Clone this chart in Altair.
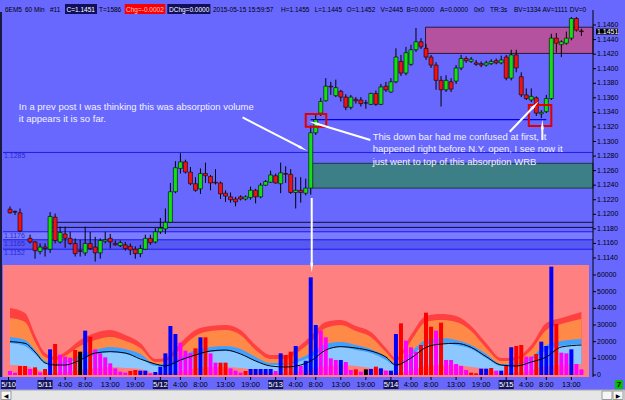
import altair as alt
import pandas as pd

FONT = "Liberation Sans"
BG = "#6868FF"

# ---------------- price bars (hourly, index 0 = 5/10 17:00) ----------------
OPEN = [1.1207, 1.1204, 1.1202, None, 1.1167, 1.1162, 1.1149, 1.1155, 1.1152, 1.1196,
        1.1162, 1.1173, 1.1167, 1.1160, 1.1150, 1.1147, 1.1160, 1.1155, 1.1147, 1.1163,
        1.1167, 1.1160, 1.1157, 1.1158, 1.1156, 1.1152, 1.1146, 1.1152, 1.1167, 1.1162,
        1.1176, 1.1180, 1.1189, 1.1231, 1.1263, 1.1272, 1.1258, 1.1242, 1.1235, 1.1256,
        1.1252, 1.1244, 1.1243, 1.1229, 1.1224, 1.1221, 1.1224, 1.1221, 1.1223, 1.1233,
        1.1224, 1.1240, 1.1244, 1.1253, 1.1242, 1.1256, 1.1255, 1.1230, 1.1233, 1.1229,
        1.1236, 1.1312, 1.1339, 1.1356, 1.1376, 1.1363, 1.1369, 1.1361, 1.1347, 1.1358,
        1.1357, 1.1353, 1.1351, 1.1366, 1.1351, 1.1376, 1.1368, 1.1382, 1.1410, 1.1394,
        1.1406, 1.1426, 1.1437, 1.1428, 1.1416, 1.1405, 1.1384, 1.1371, 1.1382, 1.1383,
        1.1401, 1.1414, 1.1410, 1.1408, 1.1407, 1.1405, 1.1407, 1.1411, 1.1408, 1.1416,
        1.1387, 1.1419, 1.1389, 1.1364, 1.1357, 1.1360, 1.1338, 1.1341, 1.1359, 1.1442,
        1.1433, 1.1435, 1.1442, 1.1469, 1.1452]
HIGH = [1.1211, 1.1205, 1.1208, None, 1.1172, 1.1163, 1.1160, 1.1160, 1.1203, 1.1201,
        1.1183, 1.1183, 1.1176, 1.1167, 1.1165, 1.1183, 1.1176, 1.1169, 1.1167, 1.1176,
        1.1173, 1.1164, 1.1164, 1.1162, 1.1160, 1.1156, 1.1158, 1.1172, 1.1172, 1.1181,
        1.1195, 1.1208, 1.1243, 1.1273, 1.1284, 1.1275, 1.1265, 1.1251, 1.1263, 1.1271,
        1.1254, 1.1262, 1.1245, 1.1233, 1.1230, 1.1224, 1.1226, 1.1226, 1.1238, 1.1235,
        1.1243, 1.1247, 1.1260, 1.1256, 1.1271, 1.1266, 1.1262, 1.1251, 1.1251, 1.1249,
        1.1322, 1.1337, 1.1360, 1.1387, 1.1382, 1.1385, 1.1371, 1.1365, 1.1364, 1.1361,
        1.1361, 1.1357, 1.1367, 1.1370, 1.1379, 1.1382, 1.1387, 1.1428, 1.1419, 1.1430,
        1.1433, 1.1456, 1.1442, 1.1434, 1.1419, 1.1409, 1.1390, 1.1391, 1.1387, 1.1405,
        1.1419, 1.1417, 1.1416, 1.1412, 1.1410, 1.1411, 1.1413, 1.1414, 1.1418, 1.1419,
        1.1426, 1.1426, 1.1395, 1.1373, 1.1373, 1.1362, 1.1343, 1.1364, 1.1448, 1.1449,
        1.1439, 1.1451, 1.1471, 1.1471, 1.1455]
LOW = [1.1201, 1.1199, 1.1176, None, 1.1160, 1.1139, 1.1145, 1.1142, 1.1147, 1.1160,
       1.1160, 1.1154, 1.1158, 1.1142, 1.1142, 1.1143, 1.1151, 1.1135, 1.1139, 1.1160,
       1.1153, 1.1157, 1.1155, 1.1150, 1.1144, 1.1139, 1.1141, 1.1151, 1.1158, 1.1160,
       1.1173, 1.1173, 1.1188, 1.1229, 1.1256, 1.1256, 1.1240, 1.1231, 1.1228, 1.1243,
       1.1233, 1.1241, 1.1221, 1.1217, 1.1216, 1.1211, 1.1219, 1.1219, 1.1220, 1.1215,
       1.1222, 1.1239, 1.1243, 1.1242, 1.1229, 1.1243, 1.1228, 1.1208, 1.1216, 1.1226,
       1.1227, 1.1309, 1.1335, 1.1355, 1.1364, 1.1361, 1.1355, 1.1343, 1.1344, 1.1352,
       1.1348, 1.1345, 1.1350, 1.1349, 1.1350, 1.1368, 1.1367, 1.1380, 1.1390, 1.1391,
       1.1404, 1.1423, 1.1427, 1.1412, 1.1401, 1.1371, 1.1348, 1.1368, 1.1368, 1.1379,
       1.1398, 1.1408, 1.1408, 1.1404, 1.1402, 1.1403, 1.1405, 1.1406, 1.1406, 1.1384,
       1.1384, 1.1395, 1.1361, 1.1357, 1.1354, 1.1335, 1.1332, 1.1339, 1.1357, 1.1422,
       1.1416, 1.1433, 1.1439, 1.1451, 1.1445]
CLOSE = [1.1202, 1.1203, 1.1177, None, 1.1162, 1.1150, 1.1155, 1.1153, 1.1197, 1.1164,
         1.1175, 1.1167, 1.1160, 1.1146, 1.1149, 1.1160, 1.1153, 1.1147, 1.1164, 1.1165,
         1.1162, 1.1158, 1.1161, 1.1153, 1.1151, 1.1146, 1.1153, 1.1167, 1.1161, 1.1176,
         1.1181, 1.1189, 1.1231, 1.1264, 1.1272, 1.1258, 1.1242, 1.1233, 1.1256, 1.1253,
         1.1243, 1.1243, 1.1228, 1.1225, 1.1220, 1.1217, 1.1221, 1.1224, 1.1233, 1.1224,
         1.1240, 1.1245, 1.1254, 1.1243, 1.1257, 1.1255, 1.1230, 1.1233, 1.1230, 1.1236,
         1.1312, 1.1330, 1.1355, 1.1376, 1.1375, 1.1374, 1.1361, 1.1347, 1.1361, 1.1356,
         1.1352, 1.1353, 1.1366, 1.1351, 1.1375, 1.1371, 1.1382, 1.1416, 1.1394, 1.1422,
         1.1426, 1.1437, 1.1430, 1.1416, 1.1405, 1.1384, 1.1371, 1.1384, 1.1372, 1.1401,
         1.1414, 1.1411, 1.1413, 1.1406, 1.1405, 1.1408, 1.1410, 1.1408, 1.1412, 1.1387,
         1.1419, 1.1401, 1.1364, 1.1359, 1.1362, 1.1339, 1.1340, 1.1359, 1.1442, 1.1435,
         1.1437, 1.1442, 1.1469, 1.1453, 1.1451]

# ---------------- volume ----------------
VOLUME = [2400, 1400, 5400, 5400, 3600, 4600, 1600, 3600, 15400, 18600,
          12200, 11000, 10400, 15000, 14000, 26600, 23000, 15400, 13000, 10600,
          7000, 4000, 2000, 1400, 2400, 3000, 2600, 2600, 1000, 1800,
          5000, 13000, 29400, 24600, 19400, 14600, 13000, 16000, 22600, 22600,
          13000, 7400, 7400, 7400, 4000, 2600, 1400, 2400, 3600, 3600,
          3600, 3600, 3600, 2400, 13000, 12000, 14000, 17400, 5400, 8500,
          58600, 30000, 26600, 22600, 10000, 9000, 9000, 7800, 3000, 3400,
          2000, 3400, 3600, 5000, 4000, 2600, 2600, 24600, 31000, 20600,
          16600, 14000, 18000, 37400, 29000, 26600, 31400, 9000, 9000, 6600,
          5400, 3000, 1400, 1000, 3800, 3800, 4200, 2600, 2600, 5400,
          16600, 17400, 18000, 11000, 11000, 12600, 20000, 17400, 65000, 30600,
          13400, 13000, 15400, 6600, 3400]
VOL_KIND = list("mmrrmrmrbr" "mmmrkbrmmm" "mmmmrrbbmb" "bbbbmmmrbr" "mmrrmmmrbb"
                "bbbmbrrbmb" "bbmmmmbmmr" "mkbrbmbbrm" "mmrrrmrmmm" "mmrrbbrmbr"
                "brrmmrbbbr" "mmbmm")

# volume bands (read at selected bars)
BAND_IDX = [0, 3, 5, 7, 9, 11, 14, 17, 20, 23, 26, 29, 31, 34, 37, 40, 43, 46, 49, 52, 55,
            58, 60, 63, 66, 69, 72, 75, 77, 80, 83, 86, 89, 92, 95, 98, 101, 104, 107, 110, 114]
BAND_RED = [40200, 37200, 24000, 13200, 10800, 13800, 21000, 25200, 27000, 24000, 19200, 9600,
            10200, 19200, 27000, 29400, 30000, 27000, 18000, 12000, 12000, 18000, 23400, 31800,
            33000, 29400, 25800, 16200, 10200, 24000, 35400, 36600, 35400, 29400, 19200, 10200,
            10800, 18000, 31200, 34200, 37800]
BAND_ORANGE = [34200, 31800, 19800, 10800, 9000, 11400, 17400, 21000, 22800, 20400, 16200, 7800,
               8400, 15600, 23400, 26400, 27000, 24000, 15000, 9600, 9600, 15000, 19800, 28200,
               30000, 26400, 22800, 13800, 8400, 20400, 31800, 33000, 31800, 26400, 16200, 8400,
               9000, 15000, 27000, 30600, 33600]
BAND_BLUE = [22800, 21000, 15000, 8400, 7200, 8400, 12000, 15000, 16800, 15600, 12600, 6600,
             6600, 10800, 15000, 16800, 17400, 15600, 10800, 7200, 7200, 10200, 13200, 18600,
             19800, 18000, 15600, 10800, 6600, 13800, 21000, 22200, 21000, 18000, 12600, 6600,
             7200, 10800, 18000, 20400, 21600]
BAND_LIGHT = [19200, 17400, 12600, 7200, 6000, 7200, 9600, 12000, 13800, 12600, 10200, 5400,
              5400, 8400, 12000, 13800, 14400, 12600, 8400, 6000, 6000, 8400, 10800, 15600,
              16800, 15000, 13200, 9000, 5400, 11400, 18000, 19200, 18000, 15600, 10200, 5400,
              6000, 9000, 15000, 17400, 18600]
BAND_LOWER = [6000, 5400, 3600, 1800, 1200, 1800, 3000, 4200, 4800, 4200, 3600, 1200,
              1200, 2400, 4200, 4800, 4800, 4200, 3000, 1200, 1200, 2400, 3600, 5400,
              6000, 5400, 4200, 3000, 1200, 3000, 5400, 6000, 6000, 4800, 3600, 1200,
              1200, 3000, 5400, 6000, 6600]
VOL_MA = [20000, 19000, 13800, 7200, 6000, 6000, 9000, 13200, 14000, 13200, 9600, 6600,
          5400, 9000, 12000, 14400, 15000, 12600, 8400, 5400, 4800, 6000, 8400, 15000,
          17000, 16200, 14400, 10800, 6000, 10200, 16600, 18600, 19000, 16600, 11000, 6000,
          5400, 7800, 10800, 16800, 18000]

# ---------------- levels / zones / annotations ----------------
BLUE_LEVELS = [1.1285, 1.1176, 1.1165, 1.1152]
BLACK_LEVELS = [1.1189, 1.1182]
BLACK_START = 8.5
BAND_ZONES_TOP = [1.1176, 1.1165]
BAND_ZONES_BOT = [1.1165, 1.1152]
TEAL_ZONE = (60.2, 1.1270, 1.1236)
MAGENTA_ZONE = (82.9, 1.1457, 1.1421)
WRB_LINE = (60.0, 107.0, 1.1330)
RED_BOX_I0 = [59.0, 103.5]
RED_BOX_I1 = [63.1, 108.0]
RED_BOX_P0 = [1.13378, 1.13501]
RED_BOX_P1 = [1.13203, 1.13213]

ANNOT_TEXT = ["In a prev post I was thinking this was absorption volume",
              "it appears it is so far.",
              "This down bar had me confused at first, it",
              "happened right before N.Y. open, I see now it",
              "just went to top of this absorption WRB"]
ANNOT_I = [1.76, 1.76, 72.35, 72.35, 72.35]
ANNOT_P = [1.13478, 1.13305, 1.13066, 1.12893, 1.12725]

ARROW_I0 = [46.4, 60.2, 71.9, 99.7, 106.2]
ARROW_P0 = [1.13332, 1.12224, 1.13020, 1.13134, 1.13020]
ARROW_I1 = [58.2, 60.2, 60.9, 104.6, 106.2]
ARROW_P1 = [1.12911, 1.11290, 1.13250, 1.13487, 1.13213]
ARROW_ANGLE = [117, 180, 287, 44, 0]

PRICE_TICKS = [1.1140, 1.1160, 1.1180, 1.1200, 1.1220, 1.1240, 1.1260, 1.1280, 1.1300,
               1.1320, 1.1340, 1.1360, 1.1380, 1.1400, 1.1420, 1.1440, 1.1460]
VOL_TICKS = [0, 10000, 20000, 30000, 40000, 50000, 60000]
LAST_PRICE = 1.1451

XLAB_I = [-0.3, 7, 11, 15, 20, 25, 30, 34, 38, 43, 48, 53, 57, 61, 66, 71,
          76, 80, 84, 89, 94, 99, 103, 107, 112]
XLAB_T = ["5/10", "5/11", "4:00", "8:00", "13:00", "19:00", "5/12", "4:00", "8:00", "13:00",
          "19:00", "5/13", "4:00", "8:00", "13:00", "19:00", "5/14", "4:00", "8:00", "13:00",
          "19:00", "5/15", "4:00", "8:00", "13:00"]

HEADER_TEXT = ["6EM5", "60 Min", "#11", "C=1.1451", "T=1586", "Chg=-0.0002", "DChg=0.0000",
               "2015-05-15 15:59:57", "H=1.1455", "L=1.1445", "O=1.1452", "V=2445",
               "B=0.0000", "A=0.0000", "0x0", "TR:3s", "BV=1334", "AV=1111", "DV=0"]

# ---------------- layout constants (pixels) ----------------
HEADER_X = [5, 25, 50, 66.5, 99, 126, 169, 213, 281, 314.7, 346.6, 380.5, 406.4, 440,
            474, 490, 514, 542.6, 569.7]
HEADER_BOX = {3: (65, 97, "#10105A", "white"), 5: (124.7, 165.3, "#FF0000", "#FFC8C8"),
              6: (167.3, 210.4, "#10105A", "white")}

XS = alt.Scale(domain=[0, 114], range=[5, 586.4], nice=False, zero=False)
PS = alt.Scale(domain=[1.11331, 1.14779], range=[263, 12], nice=False, zero=False)
VS = alt.Scale(domain=[0, 66000], range=[375, 265], nice=False, zero=False)


def xq(f):
    return alt.X(f"{f}:Q", scale=XS, axis=None)


def yp(f):
    return alt.Y(f"{f}:Q", scale=PS, axis=None)


def yv(f):
    return alt.Y(f"{f}:Q", scale=VS, axis=None)


one = pd.DataFrame({"k": [0]})

# ---------------- volume panel ----------------
vol = pd.DataFrame({"i": list(range(len(VOLUME))), "v": VOLUME, "k": VOL_KIND})
bands = pd.DataFrame({"i": BAND_IDX, "red": BAND_RED, "orange": BAND_ORANGE, "blue": BAND_BLUE,
                      "light": BAND_LIGHT, "lower": BAND_LOWER, "ma": VOL_MA})

vol_layers = [alt.Chart(one).mark_rect(color="#FF8080").encode(
    x=alt.value(3), x2=alt.value(589), y=alt.value(265), y2=alt.value(377))]
for col, colr in [("red", "#FF4040"), ("orange", "#FF8A48"), ("blue", "#3FA0FF"),
                  ("light", "#8CC8FF"), ("lower", "#FF8080")]:
    vol_layers.append(alt.Chart(bands).mark_area(color=colr, interpolate="monotone").encode(
        x=xq("i"), y=yv(col)))
for kind, colr in [("b", "#0000FF"), ("r", "#FF0000"), ("m", "#FF00FF"), ("k", "#000000")]:
    vol_layers.append(alt.Chart(vol).transform_filter(alt.datum.k == kind).mark_bar(
        size=4, color=colr).encode(x=xq("i"), y=yv("v")))
vol_layers.append(alt.Chart(bands).mark_line(color="black", strokeWidth=1,
                                             interpolate="monotone").encode(
    x=xq("i"), y=yv("ma")))
# volume axis (ticks + labels)
vt = pd.DataFrame({"v": VOL_TICKS, "t": [str(v) for v in VOL_TICKS]})
vol_layers.append(alt.Chart(vt).mark_rule(color="black").encode(
    x=alt.value(593), x2=alt.value(596), y=yv("v")))
vol_layers.append(alt.Chart(vt).mark_text(align="left", baseline="middle", font=FONT,
                                          fontSize=7, color="black").encode(
    x=alt.value(597), y=yv("v"), text="t:N"))
volume_group = alt.layer(*vol_layers)

# ---------------- price panel ----------------
cand = pd.DataFrame({"i": list(range(len(OPEN))), "o": OPEN, "h": HIGH, "l": LOW,
                     "c": CLOSE}).dropna()
cand["dir"] = ["up" if c >= o else "down" for o, c in zip(cand["o"], cand["c"])]

pl = []
for t, b, colr in zip(BAND_ZONES_TOP, BAND_ZONES_BOT, ["#7C7CFF", "#5858F2"]):
    z = pd.DataFrame({"t": [t], "b": [b]})
    pl.append(alt.Chart(z).mark_rect(color=colr).encode(
        x=alt.value(3), x2=alt.value(593), y=yp("t"), y2="b:Q"))
tz = pd.DataFrame({"s": [TEAL_ZONE[0]], "t": [TEAL_ZONE[1]], "b": [TEAL_ZONE[2]]})
pl.append(alt.Chart(tz).mark_rect(color="#3C7F86", stroke="#1E3A40", strokeWidth=1).encode(
    x=xq("s"), x2=alt.value(593), y=yp("t"), y2="b:Q"))
mz = pd.DataFrame({"s": [MAGENTA_ZONE[0]], "t": [MAGENTA_ZONE[1]], "b": [MAGENTA_ZONE[2]]})
pl.append(alt.Chart(mz).mark_rect(color="#B4529F", stroke="#2A1838", strokeWidth=1).encode(
    x=xq("s"), x2=alt.value(593), y=yp("t"), y2="b:Q"))

bl = pd.DataFrame({"p": BLUE_LEVELS, "lab": [f"{p:.4f}" for p in BLUE_LEVELS]})
pl.append(alt.Chart(bl).mark_rule(color="#1C1CE6", strokeWidth=1).encode(
    x=alt.value(3), x2=alt.value(593), y=yp("p")))
kl = pd.DataFrame({"p": BLACK_LEVELS, "s": [BLACK_START] * len(BLACK_LEVELS)})
pl.append(alt.Chart(kl).mark_rule(color="#101030", strokeWidth=1).encode(
    x=xq("s"), x2=alt.value(593), y=yp("p")))
pl.append(alt.Chart(bl).mark_text(align="left", baseline="middle", dy=4, font=FONT,
                                  fontSize=7, color="#2A2AD0").encode(
    x=alt.value(4), y=yp("p"), text="lab:N"))

wl = pd.DataFrame({"s": [WRB_LINE[0]], "e": [WRB_LINE[1]], "p": [WRB_LINE[2]]})
pl.append(alt.Chart(wl).mark_rule(color="#0000E0", strokeWidth=1.2).encode(
    x=xq("s"), x2="e:Q", y=yp("p")))

pl.append(alt.Chart(cand).mark_rule(color="black", strokeWidth=1).encode(
    x=xq("i"), y=yp("l"), y2="h:Q"))
for d, colr in [("up", "#12E012"), ("down", "#F01212")]:
    pl.append(alt.Chart(cand).transform_filter(alt.datum.dir == d).mark_bar(
        size=4, stroke="black", strokeWidth=0.6, color=colr).encode(
        x=xq("i"), y=yp("o"), y2="c:Q"))

rb = pd.DataFrame({"i0": RED_BOX_I0, "i1": RED_BOX_I1, "p0": RED_BOX_P0, "p1": RED_BOX_P1})
pl.append(alt.Chart(rb).mark_rect(fillOpacity=0, stroke="#E00000", strokeWidth=2).encode(
    x=xq("i0"), x2="i1:Q", y=yp("p0"), y2="p1:Q"))

ar = pd.DataFrame({"i0": ARROW_I0, "p0": ARROW_P0, "i1": ARROW_I1, "p1": ARROW_P1,
                   "a": ARROW_ANGLE})
pl.append(alt.Chart(ar).mark_rule(color="white", strokeWidth=2).encode(
    x=xq("i0"), x2="i1:Q", y=yp("p0"), y2="p1:Q"))
pl.append(alt.Chart(ar).mark_point(shape="wedge", filled=True, size=130, color="white",
                                   opacity=1).encode(
    x=xq("i1"), y=yp("p1"), angle=alt.Angle("a:Q", scale=None)))

an = pd.DataFrame({"t": ANNOT_TEXT, "i": ANNOT_I, "p": ANNOT_P})
pl.append(alt.Chart(an).mark_text(align="left", baseline="middle", font=FONT, fontSize=9.5,
                                  color="#F2F2FF").encode(
    x=xq("i"), y=yp("p"), text="t:N"))

# price axis (ticks + labels)
pt = pd.DataFrame({"p": PRICE_TICKS, "t": [f"{p:.4f}" for p in PRICE_TICKS]})
pl.append(alt.Chart(pt).mark_rule(color="black").encode(
    x=alt.value(593), x2=alt.value(596), y=yp("p")))
pl.append(alt.Chart(pt).mark_text(align="left", baseline="middle", font=FONT, fontSize=7,
                                  color="black").encode(
    x=alt.value(597), y=yp("p"), text="t:N"))

# last price marker on axis
lp = pd.DataFrame({"p": [LAST_PRICE], "t": [f"{LAST_PRICE:.4f}"],
                   "pt": [LAST_PRICE + 0.00041], "pb": [LAST_PRICE - 0.00041]})
pl.append(alt.Chart(lp).mark_rect(color="black").encode(
    x=alt.value(596), x2=alt.value(618), y=yp("pt"), y2="pb:Q"))
pl.append(alt.Chart(lp).mark_text(align="left", baseline="middle", font=FONT, fontSize=7,
                                  color="white").encode(
    x=alt.value(597), y=yp("p"), text="t:N"))

# frame lines
pl.append(alt.Chart(one).mark_rule(color="black", strokeWidth=1).encode(
    x=alt.value(593), y=alt.value(10), y2=alt.value(377)))
pl.append(alt.Chart(one).mark_rule(color="black", strokeWidth=1.5).encode(
    x=alt.value(1), y=alt.value(12), y2=alt.value(377)))

# header
for k, (s, px) in enumerate(zip(HEADER_TEXT, HEADER_X)):
    tcol = "black"
    if k in HEADER_BOX:
        x0, x1, bcol, tcol = HEADER_BOX[k]
        pl.append(alt.Chart(one).mark_rect(color=bcol).encode(
            x=alt.value(x0), x2=alt.value(x1), y=alt.value(4), y2=alt.value(14)))
    pl.append(alt.Chart(one).mark_text(align="left", baseline="middle", font=FONT,
                                       fontSize=6.5, color=tcol, text=s).encode(
        x=alt.value(px), y=alt.value(9.5)))

# time axis
xl = pd.DataFrame({"i": XLAB_I, "t": XLAB_T})
xl["date"] = ["d" if "/" in t else "t" for t in XLAB_T]
xl["i0"] = xl["i"] - 1.5
xl["i1"] = xl["i"] + 1.5
pl.append(alt.Chart(xl).mark_rule(color="black").encode(
    x=xq("i"), y=alt.value(377), y2=alt.value(380)))
pl.append(alt.Chart(xl).transform_filter(alt.datum.date == "d").mark_rect(
    color="#14145A").encode(x=xq("i0"), x2="i1:Q", y=alt.value(380), y2=alt.value(389)))
for d, colr in [("d", "white"), ("t", "black")]:
    pl.append(alt.Chart(xl).transform_filter(alt.datum.date == d).mark_text(
        align="center", baseline="middle", font=FONT, fontSize=7.5, color=colr).encode(
        x=xq("i"), y=alt.value(384.5), text="t:N"))

# green counter box
pl.append(alt.Chart(one).mark_rect(color="#00C000").encode(
    x=alt.value(615), x2=alt.value(623), y=alt.value(380), y2=alt.value(389)))
pl.append(alt.Chart(one).mark_text(align="center", baseline="middle", font=FONT,
                                   fontSize=8, fontWeight="bold", color="black",
                                   text="7").encode(x=alt.value(619), y=alt.value(384.5)))

# scrollbar
pl.append(alt.Chart(one).mark_rect(color="#E6E6E6", stroke="#A8A8A8", strokeWidth=1).encode(
    x=alt.value(0), x2=alt.value(625), y=alt.value(390), y2=alt.value(401)))
for bx0, bx1, glyph in [(1, 11, "◀"), (602, 612, ""), (613, 623, "▶")]:
    pl.append(alt.Chart(one).mark_rect(color="#F6F6F6", stroke="#9A9A9A", strokeWidth=1).encode(
        x=alt.value(bx0), x2=alt.value(bx1), y=alt.value(391), y2=alt.value(399.5)))
    if glyph:
        pl.append(alt.Chart(one).mark_text(align="center", baseline="middle",
                                           font="DejaVu Sans", fontSize=6, color="black",
                                           text=glyph).encode(
            x=alt.value((bx0 + bx1) / 2), y=alt.value(395.5)))

price_group = alt.layer(*pl)

chart = alt.layer(volume_group, price_group).resolve_scale(y="independent").properties(
    width=625, height=400, background=BG, padding=0,
    autosize=alt.AutoSizeParams(type="none")
).configure_view(stroke=None)

chart.save("out.html", embed_options={"renderer": "svg", "actions": False})
